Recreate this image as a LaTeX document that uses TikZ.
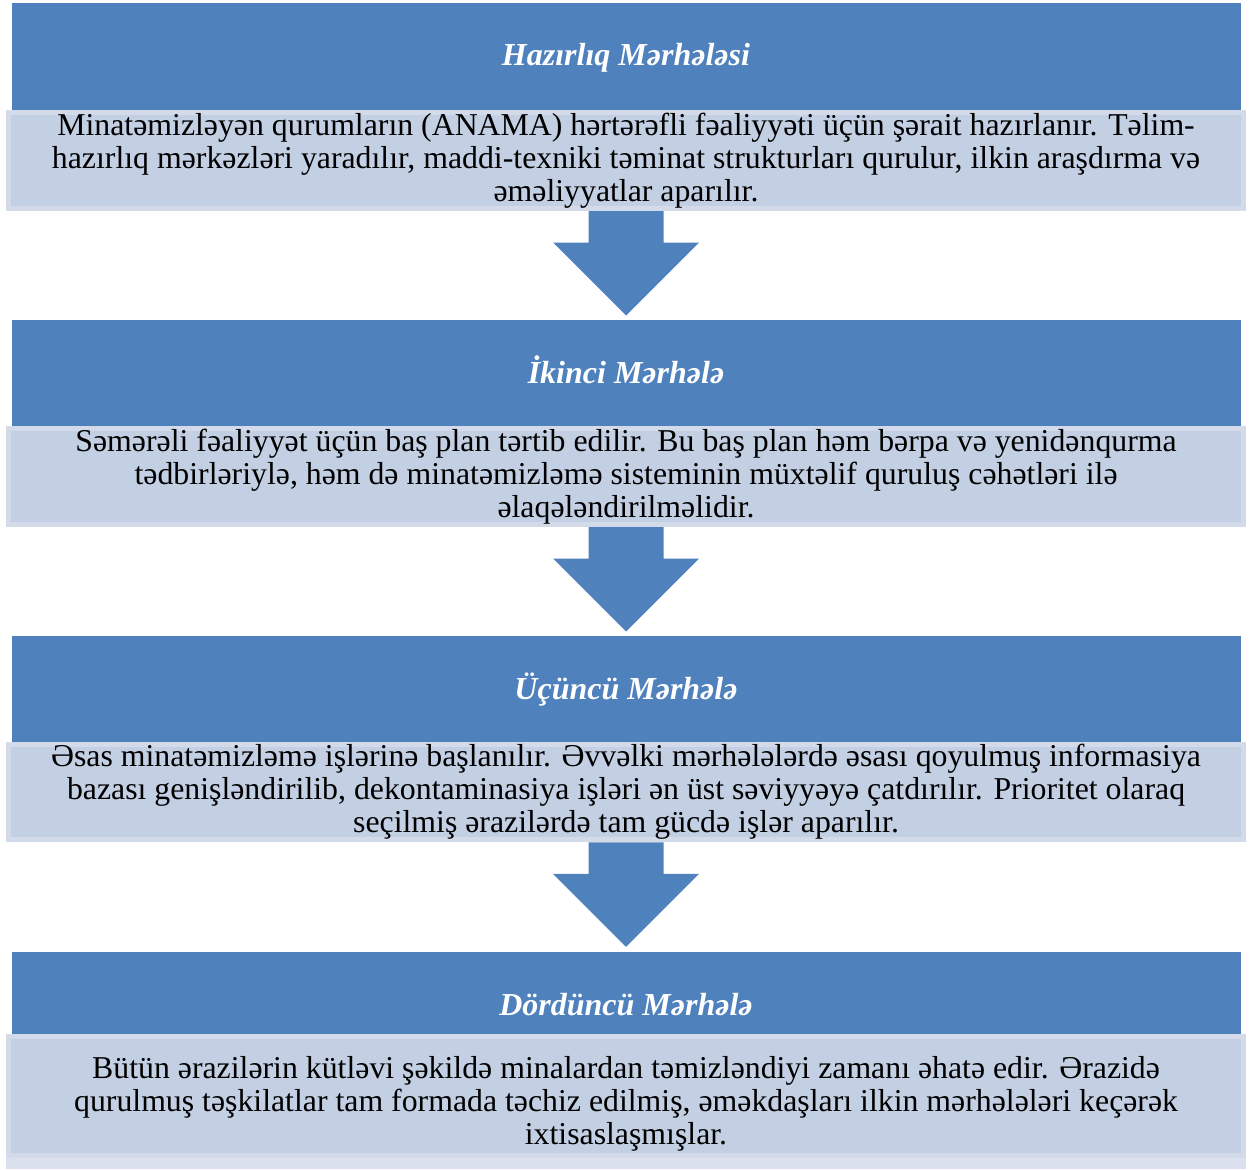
\documentclass[tikz,border=0pt]{standalone}
\usepackage{fontspec}
\setmainfont{Liberation Serif}
\definecolor{hdrblue}{HTML}{4F81BD}
\definecolor{boxfill}{RGB}{195,207,227}
\definecolor{boxedge}{RGB}{211,219,234}
\begin{document}
\begin{tikzpicture}[x=1pt,y=-1pt,
  hdrbox/.style={fill=hdrblue, draw=none, inner sep=0pt, outer sep=0pt, minimum width=1229pt, anchor=north west},
  txtbox/.style={fill=boxfill, draw=boxedge, line width=5pt, inner sep=0pt, minimum width=1235pt, anchor=north,
     align=center, font=\fontsize{31.8}{33}\selectfont},
  bodytext/.style={align=center, inner sep=0pt, font=\fontsize{31.8}{33}\selectfont},
  title/.style={text=white, inner sep=0pt, anchor=base, font=\fontsize{32}{36}\selectfont\bfseries\itshape},
  blockarrow/.style={fill=hdrblue}
]
\useasboundingbox (0,0) rectangle (1249,1169);
\fill[white] (0,0) rectangle (1249,1169);

% headers
\node[hdrbox, minimum height=107pt] (h1) at (12,3) {};
\node[hdrbox, minimum height=106pt] (h2) at (12,320) {};
\node[hdrbox, minimum height=106pt] (h3) at (12,636) {};
\node[hdrbox, minimum height=82pt] (h4) at (12,952) {};

% titles
\node[title] (t1) at (626,66) {Hazırlıq Mərhələsi};
\node[title] (t2) at (626,383) {İkinci Mərhələ};
\node[title] (t3) at (626,699) {Üçüncü Mərhələ};
\node[title] (t4) at (626,1015) {Dördüncü Mərhələ};

% text boxes
\node[txtbox, minimum height=96pt] (b1) at (626,110) {Minatəmizləyən qurumların (ANAMA) hərtərəfli fəaliyyəti üçün şərait hazırlanır. Təlim-\\hazırlıq mərkəzləri yaradılır, maddi-texniki təminat strukturları qurulur, ilkin araşdırma və\\əməliyyatlar aparılır.};
\node[txtbox, minimum height=96pt] (b2) at (626,426) {Səmərəli fəaliyyət üçün baş plan tərtib edilir. Bu baş plan həm bərpa və yenidənqurma\\tədbirləriylə, həm də minatəmizləmə sisteminin müxtəlif quruluş cəhətləri ilə\\əlaqələndirilməlidir.};
\node[txtbox, minimum height=95pt] (b3) at (626,742) {Əsas minatəmizləmə işlərinə başlanılır. Əvvəlki mərhələlərdə əsası qoyulmuş informasiya\\bazası genişləndirilib, dekontaminasiya işləri ən üst səviyyəyə çatdırılır. Prioritet olaraq\\seçilmiş ərazilərdə tam gücdə işlər aparılır.};
\node[txtbox, minimum height=119pt] (b4) at (626,1034) {};
\fill[boxedge!85!white] (b4.south west) rectangle (1246,1169);
\node[bodytext] (b4text) at (626,1104) {Bütün ərazilərin kütləvi şəkildə minalardan təmizləndiyi zamanı əhatə edir. Ərazidə\\qurulmuş təşkilatlar tam formada təchiz edilmiş, əməkdaşları ilkin mərhələləri keçərək\\ixtisaslaşmışlar.};

% block arrows
\foreach \b in {b1,b2,b3}{
  \fill[blockarrow] (\b.south) ++(-37.5,0) -- ++(75,0) -- ++(0,31.5) -- ++(35.5,0)
     -- ++(-73,73) -- ++(-73,-73) -- ++(35.5,0) -- cycle;
}
\end{tikzpicture}
\end{document}
